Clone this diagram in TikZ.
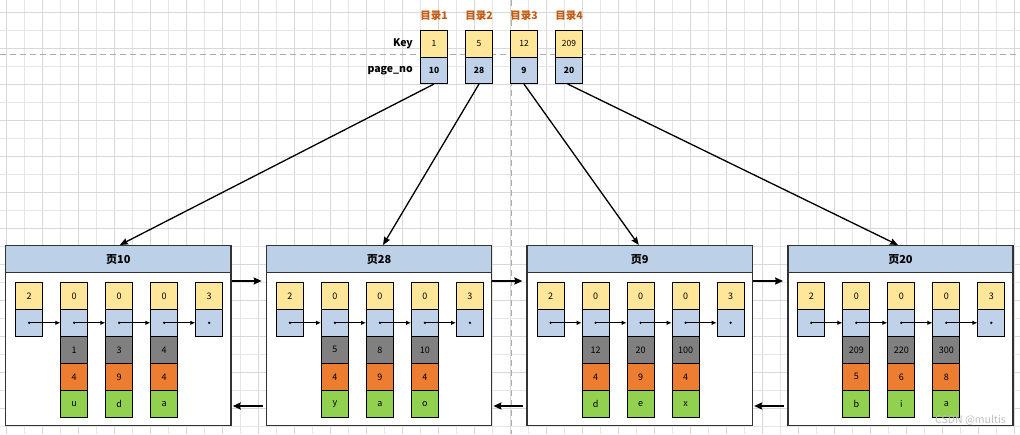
\documentclass[tikz,border=0pt]{standalone}
\usepackage{fontspec}
\setmainfont{Noto Sans CJK SC}
\usetikzlibrary{arrows.meta,calc}
\definecolor{kyellow}{HTML}{FFE699}
\definecolor{kblue}{HTML}{BFD2EA}
\definecolor{khead}{HTML}{BCD0E8}
\definecolor{kgray}{HTML}{808080}
\definecolor{korange}{HTML}{ED7D31}
\definecolor{kgreen}{HTML}{92D050}
\definecolor{klabel}{HTML}{C55A11}
\definecolor{kgrid}{HTML}{E6E6E6}
\definecolor{kgridd}{HTML}{D8D8D8}
\definecolor{kframe}{HTML}{333333}
\begin{document}
\begin{tikzpicture}[x=1pt,y=-1pt,
  gridline/.style={kgrid,line width=0.8pt},
  gridlined/.style={kgridd,line width=0.8pt},
  guide/.style={draw=black!32,line width=0.9pt,dash pattern=on 6pt off 4pt},
  cell/.style={draw=black,line width=0.8pt,minimum width=27pt,minimum height=27pt,inner sep=0pt,font=\fontsize{9}{10}\selectfont},
  keycell/.style={draw=black,line width=0.8pt,minimum width=26.7pt,minimum height=26.7pt,inner sep=0pt,font=\fontsize{8.5}{9}\selectfont},
  pagebox/.style={draw=kframe,fill=white,line width=1.4pt,minimum width=225.3pt,minimum height=180pt,inner sep=0pt},
  headbox/.style={draw=kframe,fill=khead,line width=1.4pt,minimum width=225.3pt,minimum height=27pt,inner sep=0pt,font=\bfseries\fontsize{11}{12}\selectfont},
  toplabel/.style={text=klabel,font=\bfseries\fontsize{10.5}{11}\selectfont,inner sep=0pt},
  rowlabel/.style={font=\bfseries\fontsize{10.5}{11}\selectfont,inner sep=0pt,anchor=east},
  inarrow/.style={line width=1pt,-{Latex[length=5pt,width=4.5pt]}},
  pagearrow/.style={line width=2.2pt,-{Stealth[length=8pt,width=7pt,inset=1pt]}},
  downarrow/.style={line width=1.3pt,-{Stealth[length=8pt,width=6.5pt,inset=1pt]}},
]
\useasboundingbox (0,0) rectangle (1020,434);
\fill[white] (0,0) rectangle (1020,434);
% grid
\foreach \i in {0,...,56} {
  \pgfmathsetmacro\gx{6.5+18*\i}
  \ifodd\i \draw[gridline] (\gx,0) -- (\gx,434); \else \draw[gridlined] (\gx,0) -- (\gx,434); \fi
}
\foreach \i in {0,...,23} {
  \pgfmathsetmacro\gy{12.3+18*\i}
  \ifodd\i \draw[gridline] (0,\gy) -- (1020,\gy); \else \draw[gridlined] (0,\gy) -- (1020,\gy); \fi
}
\draw[guide] (0,54.3) -- (1020,54.3);
\draw[guide] (511,0) -- (511,434);

% directory
\node[rowlabel] (lkey) at (413,43.7) {Key};
\node[rowlabel] (lpg) at (413,70.3) {page\_no};
\foreach \i/\kv/\pv in {0/1/10,1/5/28,2/12/9,3/209/20} {
  \pgfmathsetmacro\kx{434+45*\i}
  \node[toplabel] (dir\i) at (\kx,16) {目录\the\numexpr\i+1\relax};
  \node[keycell,fill=kyellow] (key\i) at (\kx,43.7) {\kv};
  \node[keycell,fill=kblue,font=\bfseries\fontsize{8.5}{9}\selectfont] (pn\i) at (\kx,70.3) {\pv};
}

% pages
\foreach \k/\nm/\ga/\gb/\gc/\oa/\ob/\oc/\ea/\eb/\ec in {
  0/10/1/3/4/4/9/4/u/d/a,
  1/28/5/8/10/4/9/4/y/a/o,
  2/9/12/20/100/4/9/4/d/e/x,
  3/20/209/220/300/5/6/8/b/i/a} {
  \pgfmathsetmacro\xo{5.7+260.7*\k}
  \node[pagebox] (p\k) at (\xo+112.65,335.7) {};
  \node[headbox] (h\k) at (\xo+112.65,259.2) {页\nm};
  \foreach \j/\v in {0/2,1/0,2/0,3/0,4/3} {
    \node[cell,fill=kyellow] (y\k-\j) at (\xo+23.5+45*\j,295.8) {\v};
    \node[cell,fill=kblue] (b\k-\j) at (\xo+23.5+45*\j,322.8) {};
  }
  \foreach \j/\g/\o/\e in {1/\ga/\oa/\ea,2/\gb/\ob/\eb,3/\gc/\oc/\ec} {
    \node[cell,fill=kgray] (g\k-\j) at (\xo+23.5+45*\j,349.8) {\g};
    \node[cell,fill=korange] (o\k-\j) at (\xo+23.5+45*\j,376.8) {\o};
    \node[cell,fill=kgreen] (e\k-\j) at (\xo+23.5+45*\j,403.8) {\e};
  }
  \foreach \j in {0,...,4} { \fill (b\k-\j.center) circle (1.3pt); }
  \foreach \j [evaluate=\j as \jn using int(\j+1)] in {0,...,3} {
    \draw[inarrow] (b\k-\j.center) -- (b\k-\jn.west);
  }
}

% page links
\foreach \k [evaluate=\k as \kn using int(\k+1)] in {0,1,2} {
  \draw[pagearrow] ($(p\k.north east)+(0,36)$) -- ($(p\kn.north west)+(-4,36)$);
  \draw[pagearrow] ($(p\kn.north west)+(-3,161)$) -- ($(p\k.north east)+(1,161)$);
}

% directory to pages
\draw[downarrow] (pn0.south) -- ($(h0.north)+(1.5,0)$);
\draw[downarrow] (pn1.south) -- ($(h1.north)+(4,0)$);
\draw[downarrow] (pn2.south) -- ($(h2.north)+(-1,0)$);
\draw[downarrow] ($(pn3.south)+(-1.3,0)$) -- ($(h3.north)+(-2.5,0)$);

% watermark
\node[text=black!25,font=\fontsize{10.5}{11}\selectfont,inner sep=0pt,anchor=east] (wm) at (1006,420) {CSDN @multis};
\end{tikzpicture}
\end{document}
